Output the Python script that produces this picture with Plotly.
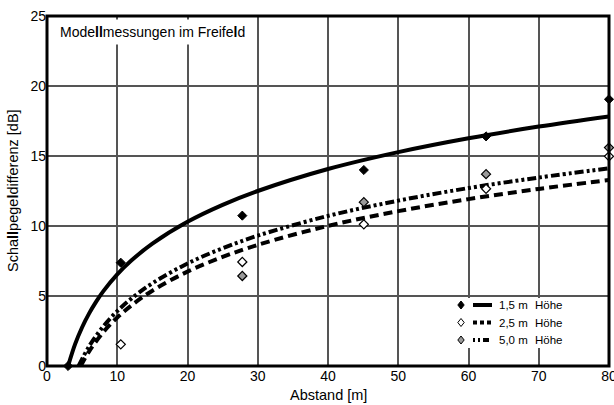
import plotly.graph_objects as go

# ---- data ----
# measured points
meas_x_15 = [3.0, 10.5, 27.8, 45.1, 62.5, 80.0]
meas_y_15 = [0.0, 7.38, 10.74, 14.0, 16.4, 19.05]

meas_x_25 = [10.5, 27.8, 45.1, 62.5, 80.0]
meas_y_25 = [1.55, 7.43, 10.12, 12.66, 14.98]

meas_x_50 = [27.8, 45.1, 62.5, 80.0]
meas_y_50 = [6.43, 11.7, 13.7, 15.6]

# fitted curves
fit_x_15 = [3, 4, 5, 6, 7, 8, 10, 12, 15, 20, 25, 30, 40, 50, 60, 70, 80]
fit_y_15 = [0, 1.56, 2.77, 3.76, 4.60, 5.33, 6.54, 7.53, 8.74, 10.30, 11.51, 12.50,
            14.07, 15.28, 16.27, 17.10, 17.83]

fit_x_25 = [4.8, 6, 8, 10, 12, 15, 20, 25, 30, 40, 50, 60, 70, 80]
fit_y_25 = [0, 1.05, 2.41, 3.46, 4.32, 5.38, 6.74, 7.79, 8.65, 10.01, 11.06, 11.92,
            12.65, 13.28]

fit_x_50 = [4.5, 6, 8, 10, 12, 15, 20, 25, 30, 40, 50, 60, 70, 80]
fit_y_50 = [0, 1.41, 2.82, 3.92, 4.81, 5.91, 7.32, 8.41, 9.31, 10.72, 11.81, 12.71,
            13.46, 14.12]

x_ticks = [0, 10, 20, 30, 40, 50, 60, 70, 80]
y_ticks = [0, 5, 10, 15, 20, 25]

legend_labels = ["1,5 m", "2,5 m", "5,0 m"]
legend_suffix = "Höhe"
x_title = "Abstand [m]"
y_title = "Scha<b>ll</b>pege<b>l</b>differenz [dB]"
chart_label = "Mode<b>ll</b>messungen im Freife<b>l</b>d"

FONT = "Liberation Sans, Arial, sans-serif"

W, H = 614, 405
L, R, T, B = 47, 5, 16, 39
PW, PH = W - L - R, H - T - B


def px(xp):
    return (xp - L) / PW


def py(yp):
    return (H - B - yp) / PH


fig = go.Figure()

dash_25 = "9px,5px"
dash_50 = "9px,3px,3px,3px,3px,3px"

fig.add_trace(go.Scatter(x=fit_x_15, y=fit_y_15, mode="lines", line_shape="spline",
                         line=dict(color="black", width=4), hoverinfo="skip"))
fig.add_trace(go.Scatter(x=fit_x_25, y=fit_y_25, mode="lines", line_shape="spline",
                         line=dict(color="black", width=4, dash=dash_25), hoverinfo="skip"))
fig.add_trace(go.Scatter(x=fit_x_50, y=fit_y_50, mode="lines", line_shape="spline",
                         line=dict(color="black", width=4, dash=dash_50), hoverinfo="skip"))

fig.add_trace(go.Scatter(x=meas_x_15, y=meas_y_15, mode="markers",
                         marker=dict(symbol="diamond", size=7, color="black",
                                     line=dict(color="black", width=1)), cliponaxis=False))
fig.add_trace(go.Scatter(x=meas_x_25, y=meas_y_25, mode="markers",
                         marker=dict(symbol="diamond", size=7, color="white",
                                     line=dict(color="black", width=1.2)), cliponaxis=False))
fig.add_trace(go.Scatter(x=meas_x_50, y=meas_y_50, mode="markers",
                         marker=dict(symbol="diamond", size=7, color="#9a9a9a",
                                     line=dict(color="black", width=1.2)), cliponaxis=False))

shapes = []
annotations = []

# title box
annotations.append(dict(
    xref="paper", yref="paper", x=px(55), y=py(32), xanchor="left", yanchor="middle",
    text=chart_label, showarrow=False,
    font=dict(family=FONT, size=14, color="black"),
    bgcolor="white", borderpad=4))

# axis titles
annotations.append(dict(
    xref="paper", yref="paper", x=px(328), y=py(395), xanchor="center", yanchor="middle",
    text=x_title, showarrow=False, font=dict(family=FONT, size=14.5, color="black")))
annotations.append(dict(
    xref="paper", yref="paper", x=px(13), y=py(191), xanchor="center", yanchor="middle",
    text=y_title, textangle=-90, showarrow=False,
    font=dict(family=FONT, size=14.5, color="black")))

# legend box background
shapes.append(dict(type="rect", xref="paper", yref="paper",
                   x0=px(452), x1=px(567), y0=py(348), y1=py(298),
                   fillcolor="white", line=dict(width=0), layer="above"))

rows_y = [305, 322.5, 340]
marker_styles = [("black", "black"), ("white", "black"), ("#9a9a9a", "black")]
dashes = ["solid", "4px,3px", "2px,3px,2px,3px,6px,3px"]
for i, yy in enumerate(rows_y):
    cx, cy = 461, yy
    r = 4
    path = "M {} {} L {} {} L {} {} L {} {} Z".format(
        px(cx), py(cy - r), px(cx + r * 0.8), py(cy), px(cx), py(cy + r), px(cx - r * 0.8), py(cy))
    fill, edge = marker_styles[i]
    shapes.append(dict(type="path", xref="paper", yref="paper", path=path,
                       fillcolor=fill, line=dict(color=edge, width=1), layer="above"))
    shapes.append(dict(type="line", xref="paper", yref="paper",
                       x0=px(473), x1=px(492), y0=py(yy), y1=py(yy),
                       line=dict(color="black", width=4, dash=dashes[i]), layer="above"))
    annotations.append(dict(xref="paper", yref="paper", x=px(497), y=py(yy),
                            xanchor="left", yanchor="middle", showarrow=False,
                            text=legend_labels[i],
                            font=dict(family=FONT, size=11.5, color="black")))
    annotations.append(dict(xref="paper", yref="paper", x=px(533), y=py(yy),
                            xanchor="left", yanchor="middle", showarrow=False,
                            text=legend_suffix,
                            font=dict(family=FONT, size=11.5, color="black")))

# plot frame
shapes.append(dict(type="rect", xref="paper", yref="paper", x0=0, x1=1, y0=0, y1=1,
                   line=dict(color="black", width=3), layer="above"))

fig.update_layout(
    width=W, height=H,
    margin=dict(l=L, r=R, t=T, b=B, autoexpand=False),
    paper_bgcolor="white", plot_bgcolor="white",
    showlegend=False,
    font=dict(family=FONT, size=13, color="black"),
    shapes=shapes,
    annotations=annotations,
    xaxis=dict(range=[0, 80], tickvals=x_ticks, ticktext=[str(v) for v in x_ticks],
               showgrid=True, gridcolor="#555555", gridwidth=1.5,
               zeroline=False, showline=False, ticks="", ticklen=0,
               ticklabeloverflow="allow", automargin=False,
               tickfont=dict(family=FONT, size=14, color="black")),
    yaxis=dict(range=[0, 25], tickvals=y_ticks, ticktext=[str(v) for v in y_ticks],
               showgrid=True, gridcolor="#555555", gridwidth=1.5,
               zeroline=False, showline=False, ticks="", ticklen=0,
               ticklabeloverflow="allow", automargin=False,
               tickfont=dict(family=FONT, size=14, color="black")),
)

fig.write_html("out.html", config={"displayModeBar": False},
               post_script="document.body.style.margin='0';document.body.style.padding='0';")
